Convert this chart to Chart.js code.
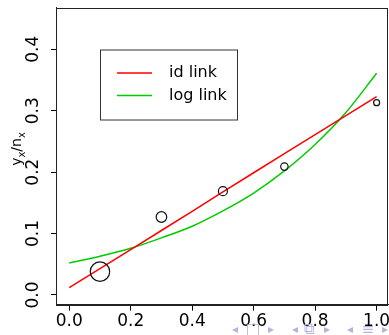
<!DOCTYPE html>
<html>
<head>
<meta charset="utf-8">
<script src="https://cdn.jsdelivr.net/npm/chart.js@4"></script>
<style>
  body { margin: 0; background: #fff; }
  canvas { display: block; }
</style>
</head>
<body>
<canvas id="chart" width="389" height="335"></canvas>
<script>
// observed proportions y_x / n_x
const doseX = [0.1, 0.3, 0.5, 0.7, 1.0];
const observed = [0.038, 0.127, 0.169, 0.209, 0.313];
const circleRadius = [9.7, 5.3, 4.5, 3.7, 3.0];

// fitted curves
const curveX = [0, 0.1, 0.2, 0.3, 0.4, 0.5, 0.6, 0.7, 0.8, 0.9, 1.0];
const idLink = [0.012, 0.043, 0.074, 0.105, 0.136, 0.168, 0.199, 0.230, 0.261, 0.292, 0.323];
const logLink = [0.052, 0.063, 0.076, 0.093, 0.112, 0.137, 0.166, 0.202, 0.245, 0.297, 0.361];

const xTicks = [0, 0.2, 0.4, 0.6, 0.8, 1.0];
const yTicks = [0, 0.1, 0.2, 0.3, 0.4];

const FONT = "'DejaVu Sans', sans-serif";

const toXY = (xs, ys) => xs.map((x, i) => ({ x: x, y: ys[i] }));

// box round the plot, rotated y labels, legend and the nav glyphs
const extras = {
  id: "extras",
  afterDraw(chart) {
    const ctx = chart.ctx;
    const a = chart.chartArea;
    const ys = chart.scales.y;

    ctx.save();
    ctx.strokeStyle = "#222";
    ctx.lineWidth = 1;
    ctx.strokeRect(Math.round(a.left) + 0.5, Math.round(a.top) + 0.5,
      Math.round(a.right - a.left) - 1, Math.round(a.bottom - a.top));

    // y tick labels, parallel to the axis
    ctx.fillStyle = "#000";
    ctx.font = "17px " + FONT;
    ctx.textAlign = "center";
    ctx.textBaseline = "middle";
    ys.ticks.forEach((t) => {
      const py = ys.getPixelForValue(t.value);
      ctx.save();
      ctx.translate(34, py);
      ctx.rotate(-Math.PI / 2);
      ctx.fillText(t.value.toFixed(1), 0, 0);
      ctx.restore();
    });

    // axis title y_x / n_x
    ctx.save();
    ctx.translate(17, 149);
    ctx.rotate(-Math.PI / 2);
    const parts = [["y", 14, 0], ["x", 10, 4], ["/n", 14, 0], ["x", 10, 4]];
    let w = 0;
    parts.forEach((p) => { ctx.font = p[1] + "px " + FONT; w += ctx.measureText(p[0]).width; });
    let px = -w / 2;
    ctx.textAlign = "left";
    ctx.textBaseline = "alphabetic";
    parts.forEach((p) => {
      ctx.font = p[1] + "px " + FONT;
      ctx.fillText(p[0], px, 4 + p[2]);
      px += ctx.measureText(p[0]).width;
    });
    ctx.restore();

    // legend
    const lx = 100, ly = 49.5, lw = 137, lh = 70;
    ctx.fillStyle = "#fff";
    ctx.fillRect(lx, ly, lw, lh);
    ctx.strokeStyle = "#333";
    ctx.strokeRect(lx + 0.5, ly + 0.5, lw, lh);
    ctx.font = "16px " + FONT;
    ctx.textAlign = "left";
    ctx.textBaseline = "middle";
    const rows = [chart.data.datasets[0], chart.data.datasets[1]];
    rows.forEach((ds, i) => {
      const ry = 73 + i * 22.5;
      ctx.strokeStyle = ds.borderColor;
      ctx.lineWidth = 1.5;
      ctx.beginPath();
      ctx.moveTo(117, ry);
      ctx.lineTo(152, ry);
      ctx.stroke();
      ctx.fillStyle = "#000";
      ctx.fillText(ds.label, 169, ry);
    });

    // navigation glyphs along the bottom edge
    ctx.fillStyle = "#b4b4e2";
    ctx.textAlign = "center";
    ctx.textBaseline = "middle";
    const nav = [["\u25C2", 235, 12], ["\u25A1", 253, 15], ["\u25B8", 271, 12],
                 ["\u25C2", 295, 12], ["\u29C9", 309, 15], ["\u25B8", 327, 12],
                 ["\u25C2", 350, 12], ["\u2261", 368, 15], ["\u25B8", 385, 12]];
    nav.forEach((n) => {
      ctx.font = n[2] + "px " + FONT;
      ctx.fillText(n[0], n[1], 330);
    });
    ctx.restore();
  }
};

new Chart(document.getElementById("chart"), {
  type: "scatter",
  data: {
    datasets: [
      {
        label: "id link",
        data: toXY(curveX, idLink),
        showLine: true,
        borderColor: "#ff0000",
        borderWidth: 1.5,
        pointRadius: 0,
        order: 2
      },
      {
        label: "log link",
        data: toXY(curveX, logLink),
        showLine: true,
        borderColor: "#00cc00",
        borderWidth: 1.5,
        pointRadius: 0,
        cubicInterpolationMode: "monotone",
        order: 3
      },
      {
        label: "observed",
        data: toXY(doseX, observed),
        showLine: false,
        pointRadius: circleRadius,
        pointBackgroundColor: "rgba(0,0,0,0)",
        pointBorderColor: "#111",
        pointBorderWidth: 1.2,
        order: 1
      }
    ]
  },
  options: {
    responsive: false,
    animation: false,
    layout: { autoPadding: false, padding: { top: 7.5, right: 0.7, left: 0, bottom: 0 } },
    plugins: { legend: { display: false }, tooltip: { enabled: false } },
    scales: {
      x: {
        type: "linear",
        min: -0.043,
        max: 1.038,
        afterFit: (s) => { s.height = 30.3; s.paddingLeft = 0; s.paddingRight = 0; },
        afterBuildTicks: (s) => { s.ticks = xTicks.map((v) => ({ value: v })); },
        grid: { drawOnChartArea: false, tickLength: 6, tickColor: "#000" },
        border: { color: "#222" },
        ticks: {
          color: "#000",
          font: { family: FONT, size: 17 },
          padding: 1,
          maxRotation: 0,
          callback: (v) => v.toFixed(1)
        }
      },
      y: {
        type: "linear",
        min: -0.0158,
        max: 0.468,
        afterFit: (s) => { s.width = 56; s.paddingTop = 0; s.paddingBottom = 0; },
        afterBuildTicks: (s) => { s.ticks = yTicks.map((v) => ({ value: v })); },
        grid: { drawOnChartArea: false, tickLength: 5, tickColor: "#000" },
        border: { color: "#222" },
        ticks: { display: false }
      }
    }
  },
  plugins: [extras]
});
</script>
</body>
</html>
